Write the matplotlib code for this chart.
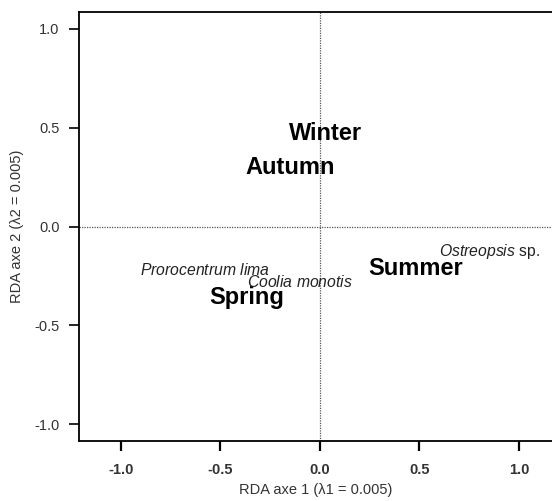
import numpy as np
import matplotlib
matplotlib.use("Agg")
from matplotlib import pyplot as plt

plt.rcParams['font.family'] = ['Liberation Sans', 'DejaVu Sans']
plt.rcParams['mathtext.fontset'] = 'custom'
plt.rcParams['mathtext.it'] = 'Liberation Sans:italic'
plt.rcParams['mathtext.rm'] = 'Liberation Sans'

# seasons (bold labels)
seasons = ['Winter', 'Autumn', 'Summer', 'Spring']
season_x = [0.03, -0.15, 0.48, -0.37]
season_y = [0.47, 0.30, -0.215, -0.36]

# species (italic labels)
species = ['Prorocentrum lima', 'Coolia monotis', 'Ostreopsis sp.']
species_lab = [r'$\it{Prorocentrum\ lima}$', r'$\it{Coolia\ monotis}$', r'$\it{Ostreopsis}$ sp.']
species_x = [-0.58, -0.10, 0.85]
species_y = [-0.22, -0.28, -0.125]

xticks = [-1.0, -0.5, 0.0, 0.5, 1.0]
yticks = [-1.0, -0.5, 0.0, 0.5, 1.0]
xlabel = 'RDA axe 1 (λ1 = 0.005)'
ylabel = 'RDA axe 2 (λ2 = 0.005)'

W, H = 552, 501
fig = plt.figure(figsize=(W / 100, H / 100), dpi=100)
l, r, t, b = 79, 552, 12, 441
ax = fig.add_axes([l / W, 1 - b / H, (r - l) / W, (b - t) / H])
ax.set_xlim(-1.211, 1.166)
ax.set_ylim(-1.086, 1.086)

for s in ['left', 'bottom', 'top']:
    ax.spines[s].set_linewidth(1.3)
ax.spines['right'].set_visible(False)

ax.axhline(0, ls=(0, (1, 1)), color='#555555', lw=0.9)
ax.axvline(0, ls=(0, (1, 1)), color='#555555', lw=0.9)

ax.set_yticks(yticks)
ax.set_yticklabels(['%.1f' % v for v in yticks], fontsize=10.5, color='#333333')
ax.tick_params(axis='y', direction='out', length=7, width=1.2, pad=7)
ax.set_xticks(xticks)
ax.set_xticklabels(['%.1f' % v for v in xticks], fontsize=10.5, color='#333333',
                   fontweight='bold')
ax.tick_params(axis='x', direction='out', length=7, width=1.6, pad=9)

ax.set_xlabel(xlabel, fontsize=10.5, color='#333333')
ax.xaxis.set_label_coords(0.5, -0.098)
ax.set_ylabel(ylabel, fontsize=10.5, color='#333333')
ax.yaxis.set_label_coords(-0.116, 0.5)

for name, x, y in zip(seasons, season_x, season_y):
    ax.text(x, y, name, fontsize=17, fontweight='bold', ha='center', va='center')

for lab, x, y in zip(species_lab, species_x, species_y):
    ax.text(x, y, lab, fontsize=11.3, ha='center', va='center', color='#222222')

fig.savefig('out.png', dpi=100)
